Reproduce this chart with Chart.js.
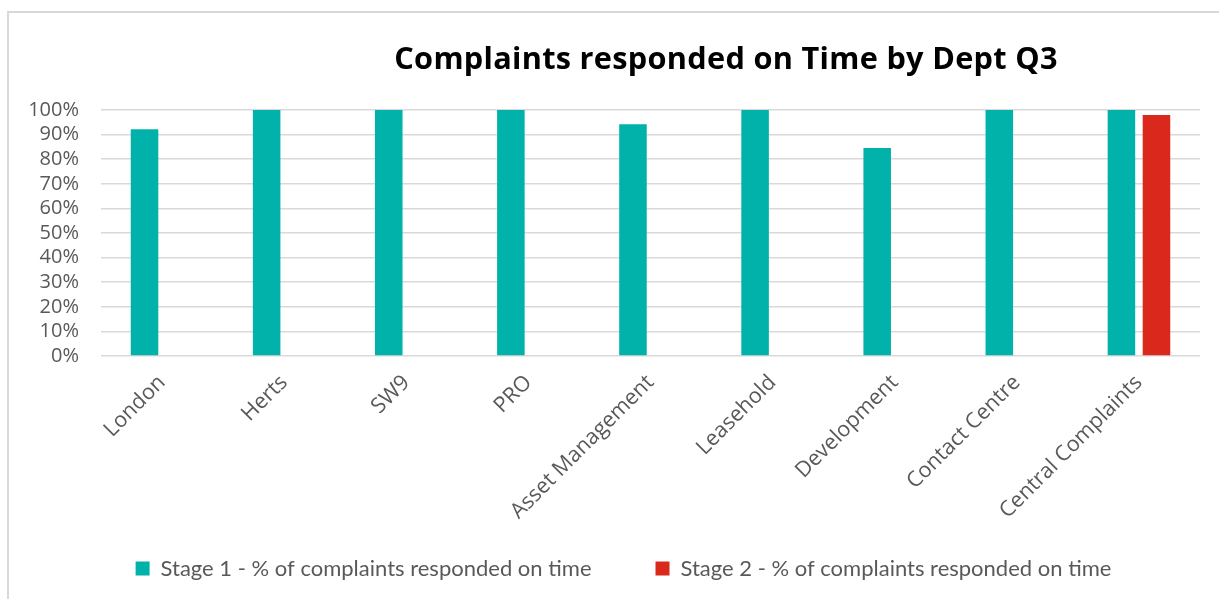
<!DOCTYPE html>
<html>
<head>
<meta charset="utf-8">
<script src="https://cdn.jsdelivr.net/npm/chart.js@4/dist/chart.umd.min.js"></script>
<style>
    body { margin: 0; background: #ffffff; }
    .wrap { position: relative; width: 1219px; height: 599px; overflow: hidden; }
    .frame {
        position: absolute; left: 7px; top: 11px; width: 1300px; height: 700px;
        border-left: 2px solid #d9d9d9; border-top: 2px solid #d9d9d9;
    }
    .title {
        position: absolute; left: 0; width: 1452px; top: 36px; text-align: center;
        font-family: "Open Sans", sans-serif; font-weight: bold; font-size: 30.7px; color: #000000;
        line-height: 42px; letter-spacing: 0.3px;
    }
    #dept_chart { position: absolute; left: 0; top: 0; }
</style>
</head>
<body>
<div class="wrap">
    <div class="frame"></div>
    <canvas id="dept_chart" width="1219" height="599"></canvas>
    <div class="title">Complaints responded on Time by Dept Q3</div>
</div>
<script>
    let deptArr = ["London", "Herts", "SW9", "PRO", "Asset Management", "Leasehold", "Development", "Contact Centre", "Central Complaints"];
    let stage1Arr = [92.2, 100, 100, 100, 94.2, 100, 84.6, 100, 100];
    let stage2Arr = [null, null, null, null, null, null, null, null, 98];
    let seriesNames = ["Stage 1 - % of complaints responded on time", "Stage 2 - % of complaints responded on time"];

    // long rotated labels run past the x axis box, so give them room after layout
    // and nudge the legend centre to where Excel put it
    let labelRoom = {
        id: 'labelRoom',
        afterLayout: function(chart) {
            chart.scales.x.bottom = chart.height;
            chart.legend.left = 47;
        }
    };

    function drawChart() {
        let ctx = document.getElementById("dept_chart");
        let deptChart = new Chart(ctx, {
            type: 'bar',
            data: {
                labels: deptArr,
                datasets: [{
                        label: seriesNames[0],
                        data: stage1Arr,
                        backgroundColor: '#00b2aa'
                    },
                    {
                        label: seriesNames[1],
                        data: stage2Arr,
                        backgroundColor: '#da291c'
                    }
                ]
            },
            plugins: [labelRoom],
            options: {
                responsive: false,
                animation: false,
                layout: {
                    padding: { left: 0, right: 19, top: 110, bottom: 9.5 }
                },
                datasets: {
                    bar: { categoryPercentage: 0.574, barPercentage: 0.786 }
                },
                plugins: {
                    title: { display: false },
                    tooltip: { enabled: false },
                    legend: {
                        position: 'bottom',
                        labels: {
                            boxWidth: 14,
                            boxHeight: 14,
                            padding: 64,
                            color: '#595959',
                            font: { family: "'Lato'", size: 22 }
                        }
                    }
                },
                scales: {
                    x: {
                        grid: { display: false },
                        border: { display: false },
                        ticks: {
                            color: '#595959',
                            font: { family: "'Open Sans'", size: 21.5 },
                            autoSkip: false,
                            minRotation: 45,
                            maxRotation: 45,
                            padding: 6
                        },
                        afterFit: function(scale) { scale.height = 137.5; }
                    },
                    y: {
                        min: 0,
                        max: 100,
                        grid: { color: '#d9d9d9', lineWidth: 1.5, drawTicks: false },
                        border: { display: false },
                        ticks: {
                            stepSize: 10,
                            autoSkip: false,
                            padding: 22,
                            color: '#595959',
                            font: { family: "'Open Sans'", size: 20 },
                            callback: function(v) { return v + '%'; }
                        },
                        afterFit: function(scale) { scale.width = 101; }
                    }
                }
            }
        });
    }

    Promise.all([
        document.fonts.load("20px 'Open Sans'"),
        document.fonts.load("22px 'Lato'")
    ]).then(drawChart, drawChart);
</script>
</body>
</html>
